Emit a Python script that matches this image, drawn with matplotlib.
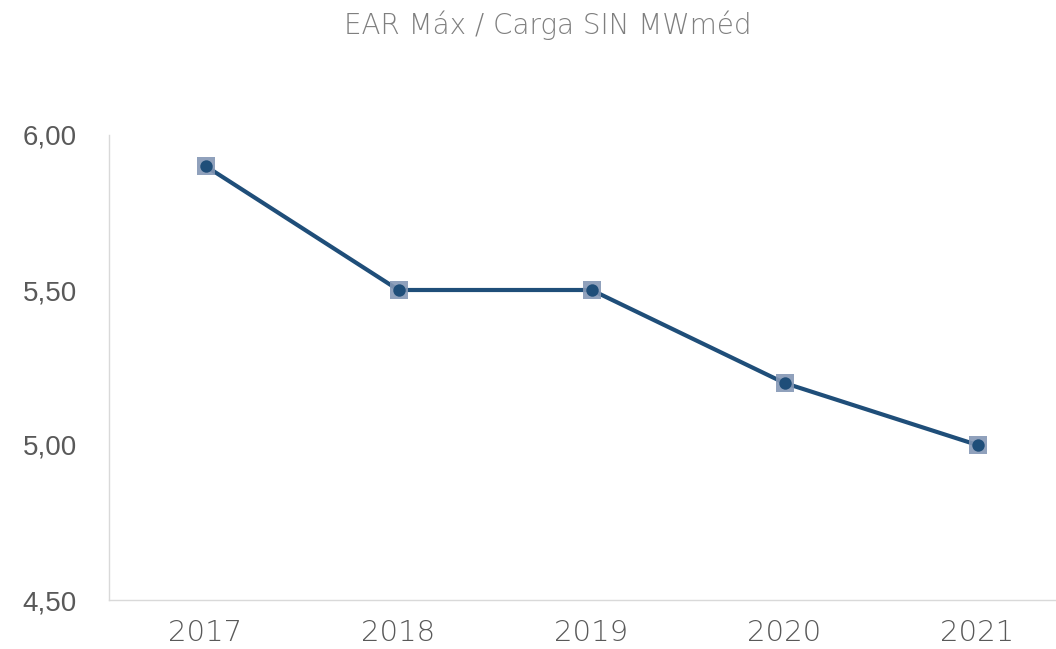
import matplotlib
matplotlib.use("Agg")
import matplotlib.pyplot as plt

years = ["2017", "2018", "2019", "2020", "2021"]
values = [5.90, 5.50, 5.50, 5.20, 5.00]
yticks = [4.50, 5.00, 5.50, 6.00]
ytick_labels = ["4,50", "5,00", "5,50", "6,00"]
title = "EAR Máx / Carga SIN MWméd"

W, H = 1056, 649
fig = plt.figure(figsize=(W/100, H/100), dpi=100)
left, right, top, bottom = 109, 1056, 135, 600
ax = fig.add_axes([left/W, 1-bottom/H, (right-left)/W, (bottom-top)/H])

x = list(range(len(years)))
ax.plot(x, values, color="#1F4E79", lw=3, zorder=2)
ax.scatter(x, values, marker="s", s=180, color="#8497B5", alpha=0.9, zorder=3, linewidths=0)
ax.scatter(x, values, marker="o", s=80, color="#1F4E79", zorder=4, linewidths=0)

ax.set_xlim(-0.5, (right-left)/193 - 0.5)
ax.set_ylim(4.5, 6.0)
ax.set_yticks(yticks)
ax.set_yticklabels(ytick_labels, fontsize=20, color="#595959", family="Liberation Sans")
ax.set_xticks(x)
ax.set_xticklabels(years, fontsize=21, color="#595959", family="DejaVu Sans", fontweight="light")
ax.tick_params(axis="both", length=0)
ax.tick_params(axis="x", pad=14)
ax.tick_params(axis="y", pad=23)
for s in ["top", "right"]:
    ax.spines[s].set_visible(False)
for s in ["left", "bottom"]:
    ax.spines[s].set_color("#D9D9D9")
    ax.spines[s].set_linewidth(1)

fig.text(548/W, 1-25/H, title, ha="center", va="center", fontsize=20,
         color="#7F7F7F", family="DejaVu Sans", fontweight="light")

fig.savefig("out.png", dpi=100)
